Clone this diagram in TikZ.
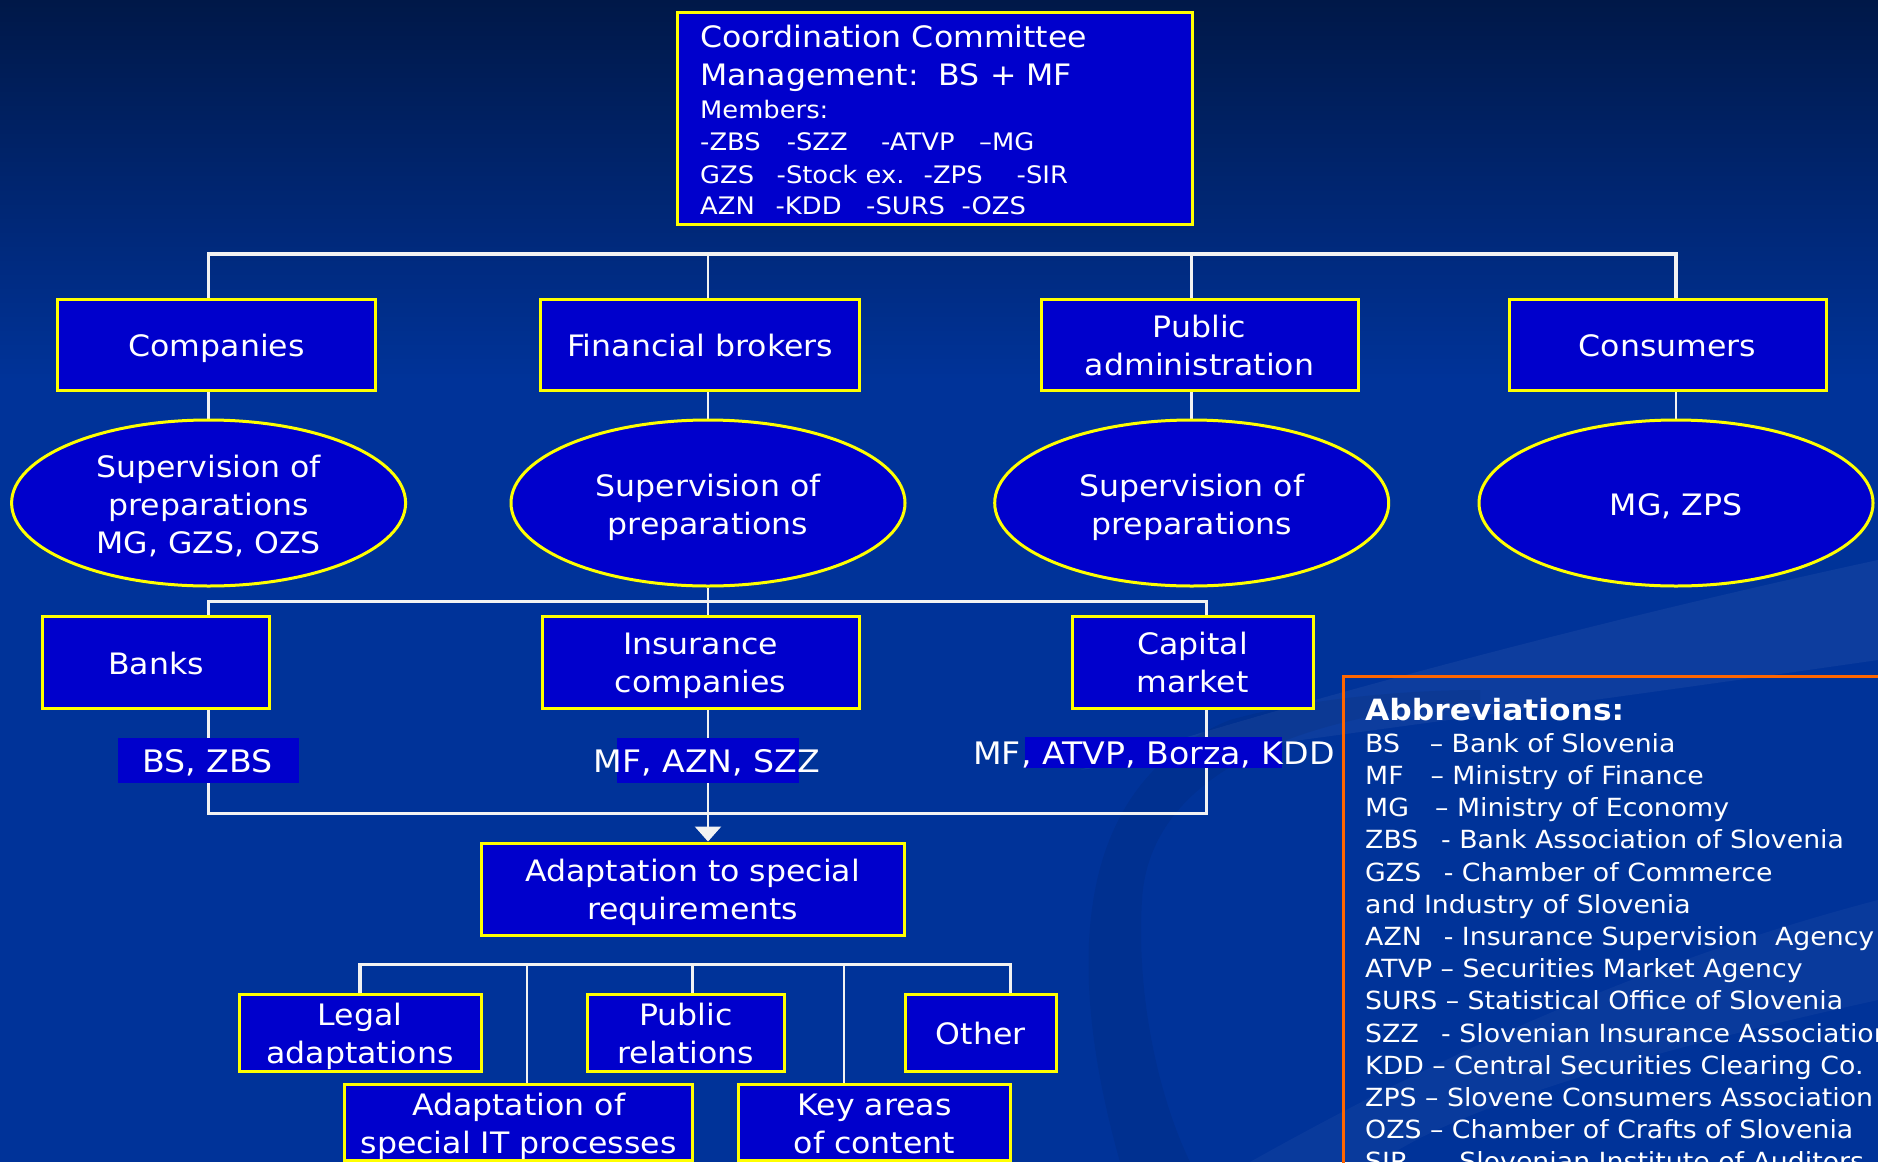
\documentclass[tikz,border=0pt]{standalone}
\usepackage{fontspec}
\setmainfont{DejaVu Sans}[FakeStretch=1.07]
\usetikzlibrary{shapes.geometric,arrows.meta}
\definecolor{bgblue}{HTML}{003399}
\definecolor{bgtop}{HTML}{001848}
\definecolor{boxblue}{HTML}{0000CC}
\definecolor{boxedge}{HTML}{FFFF00}
\definecolor{abbedge}{HTML}{FF6600}
\definecolor{linew}{HTML}{F2F2F2}
\newcommand\mainfnt{\fontsize{29.5}{38}\selectfont}
\newcommand\lblfnt{\fontsize{31}{38}\selectfont}
\newcommand\smallfnt{\fontsize{24.1}{32}\selectfont}
\newcommand\abbfnt{\fontsize{25}{32}\selectfont}
\newcommand\vstrut{\rule[-7pt]{0pt}{38pt}}
\newcommand\mlines[2]{\raisebox{#1}[\height][\depth]{\begin{tabular}{@{}c@{}}#2\end{tabular}}}
\pgfdeclarelayer{bglayer}
\pgfdeclarelayer{connlayer}
\pgfsetlayers{bglayer,connlayer,main}
\begin{document}
\begin{tikzpicture}[x=1pt,y=-1pt,
  orgbox/.style={draw=boxedge, line width=3pt, fill=boxblue, text=white,
    inner sep=0pt, font=\mainfnt,
    execute at begin node={\vstrut}, execute at end node={\vstrut}},
  mbox/.style={draw=boxedge, line width=3pt, fill=boxblue, text=white,
    inner sep=0pt, font=\mainfnt},
  orgell/.style={ellipse, draw=boxedge, line width=3pt, fill=boxblue, text=white,
    inner sep=0pt, font=\mainfnt, minimum width=394pt, minimum height=166pt},
  conn/.style={draw=linew, line width=2.6pt},
  busline/.style={draw=linew, line width=3.2pt},
  lblfill/.style={fill=boxblue, inner sep=0pt},
  lbltext/.style={text=white, inner sep=0pt, anchor=base, font=\lblfnt},
  cctext/.style={text=white, inner sep=0pt, anchor=base west},
  abbtext/.style={text=white, inner sep=0pt, anchor=base west, font=\abbfnt},
  arrowtip/.style={-{Triangle[width=26pt,length=15pt]}}
]
\useasboundingbox (0,0) rectangle (1878,1162);
\clip (0,0) rectangle (1878,1162);

% background
\begin{pgfonlayer}{bglayer}
\fill[bgblue] (0,0) rectangle (1878,1162);
\shade[top color=bgtop, bottom color=bgblue] (0,0) rectangle (1878,380);
\fill[white, opacity=0.05] (1080,770) .. controls (1300,700) and (1600,620) .. (1878,560)
  -- (1878,660) .. controls (1600,700) and (1300,740) .. (1080,770) -- cycle;
\fill[black, opacity=0.06] (1120,1162) .. controls (1060,950) and (1080,780) .. (1230,720)
  .. controls (1300,700) and (1400,690) .. (1480,690) -- (1480,702)
  .. controls (1330,712) and (1150,760) .. (1142,900)
  .. controls (1136,1000) and (1160,1100) .. (1190,1162) -- cycle;
\fill[white, opacity=0.035] (1250,1162) .. controls (1450,1050) and (1650,960) .. (1878,900)
  -- (1878,1000) .. controls (1650,1050) and (1450,1110) .. (1380,1162) -- cycle;
\end{pgfonlayer}

% top committee box
\node[mbox, minimum width=515pt, minimum height=212pt] (cc) at (934.5,118) {};
\node[cctext, font=\mainfnt] (cct1) at (700,47) {Coordination Committee};
\node[cctext, font=\mainfnt] (cct2) at (700,85) {Management:\ \ BS + MF};
\node[cctext, font=\smallfnt] (cct3) at (700,118) {Members:};
\node[cctext, font=\smallfnt] (cct4) at (700,150)
  {\makebox[86.6pt][l]{-ZBS}\makebox[94.4pt][l]{-SZZ}\makebox[98pt][l]{-ATVP}–MG};
\node[cctext, font=\smallfnt] (cct5) at (700,183)
  {\makebox[76.5pt][l]{GZS}\makebox[147pt][l]{-Stock ex.}\makebox[93pt][l]{-ZPS}-SIR};
\node[cctext, font=\smallfnt] (cct6) at (700,214)
  {\makebox[75.5pt][l]{AZN}\makebox[90.5pt][l]{-KDD}\makebox[95.4pt][l]{-SURS}-OZS};

% first row
\node[orgbox, minimum width=318.5pt, minimum height=91pt] (comp) at (216.7,344.5) {Companies};
\node[orgbox, minimum width=318.5pt, minimum height=91pt] (fin) at (700,344.5) {Financial brokers};
\node[mbox, minimum width=317pt, minimum height=91pt] (pub) at (1199.5,344.5) {\mlines{-4pt}{Public\\administration}};
\node[orgbox, minimum width=317pt, minimum height=91pt] (cons) at (1667.5,344.5) {Consumers};

% ellipses
\node[orgell] (e1) at (208.6,503) {\mlines{-4.4pt}{Supervision of\\preparations\\MG, GZS, OZS}};
\node[orgell] (e2) at (708,503) {\mlines{-5pt}{Supervision of\\preparations}};
\node[orgell] (e3) at (1191.7,503) {\mlines{-5pt}{Supervision of\\preparations}};
\node[orgell, execute at begin node={\vstrut}, execute at end node={\vstrut}] (e4) at (1676,503) {MG, ZPS};

% third row
\node[orgbox, minimum width=226.5pt, minimum height=92pt] (banks) at (156.2,662) {Banks};
\node[mbox, minimum width=317pt, minimum height=92pt] (ins) at (700.5,662) {\mlines{-4pt}{Insurance\\companies}};
\node[mbox, minimum width=241pt, minimum height=92pt] (cap) at (1192.5,662) {\mlines{-4pt}{Capital\\market}};

% labels
\node[lblfill, minimum width=181pt, minimum height=45pt] (lbzf) at (208.5,760.5) {};
\node[lblfill, minimum width=182pt, minimum height=45pt] (lazf) at (708,760.5) {};
\node[lblfill, minimum width=257pt, minimum height=31pt] (lkdf) at (1153.5,752.5) {};
\node[lbltext] (lbz) at (207.5,772.7) {BS, ZBS};
\node[lbltext] (laz) at (707,772.7) {MF, AZN, SZZ};
\node[lbltext] (lkd) at (1154,764) {MF, ATVP, Borza, KDD};

% adaptation
\node[mbox, minimum width=423.5pt, minimum height=92pt] (adapt) at (692.75,889) {\mlines{-4pt}{Adaptation to special\\requirements}};
\node[mbox, minimum width=242pt, minimum height=77pt] (legal) at (360,1032.5) {\mlines{-4pt}{Legal\\adaptations}};
\node[mbox, minimum width=196.5pt, minimum height=77pt] (prel) at (685.75,1032.5) {\mlines{-4pt}{Public\\relations}};
\node[orgbox, minimum width=151.5pt, minimum height=77pt] (other) at (980.75,1032.5) {Other};
\node[mbox, minimum width=348pt, minimum height=74.3pt] (itp) at (518.6,1122.9) {\mlines{-4pt}{Adaptation of\\special IT processes}};
\node[mbox, minimum width=272pt, minimum height=74.3pt] (key) at (874.5,1122.9) {\mlines{-4pt}{Key areas\\of content}};

% abbreviations
\draw[abbedge, line width=3pt] (1343,1200) -- (1343,676.5) -- (1900,676.5);
\node[cctext, font=\bfseries\fontsize{29.3}{32}\selectfont] (abh) at (1365,720) {Abbreviations:};
\foreach \t [count=\i] in {
  {\makebox[64.6pt][l]{BS}– Bank of Slovenia},
  {\makebox[65.3pt][l]{MF}– Ministry of Finance},
  {\makebox[69.9pt][l]{MG}– Ministry of Economy},
  {\makebox[76pt][l]{ZBS}- Bank Association of Slovenia},
  {\makebox[78.6pt][l]{GZS}- Chamber of Commerce},
  {and Industry of Slovenia},
  {\makebox[78.6pt][l]{AZN}- Insurance Supervision\ \ Agency},
  {ATVP – Securities Market Agency},
  {SURS – Statistical Office of Slovenia},
  {\makebox[76pt][l]{SZZ}- Slovenian Insurance Association},
  {KDD – Central Securities Clearing Co.},
  {ZPS – Slovene Consumers Association},
  {OZS – Chamber of Crafts of Slovenia},
  {\makebox[76pt][l]{SIR}- Slovenian Institute of Auditors}}
  \node[abbtext] (ab\i) at (1365,{720+32.2*\i}) {\t};

% connectors
\coordinate (bus1) at (0,254);
\coordinate (bus2) at (0,601.5);
\coordinate (bus3) at (0,813.5);
\coordinate (bus4) at (0,964.5);
\coordinate (capx) at (1206.7,0);
\coordinate (xi) at (527,0);
\coordinate (xp) at (692.5,0);
\coordinate (xk) at (844,0);
\coordinate (xo) at (1010.6,0);
\begin{pgfonlayer}{connlayer}
\draw[busline] (e1.north |- comp.north) -- (e1.north |- bus1) -- (e4.north |- bus1) -- (e4.north |- cons.north);
\draw[conn] (e2.north |- bus1) -- (e2.north |- fin.north);
\draw[conn] (e3.north |- bus1) -- (e3.north |- pub.north);
\draw[conn] (e1.north |- comp.south) -- (e1.north);
\draw[conn] (e2.north |- fin.south) -- (e2.north);
\draw[conn] (e3.north |- pub.south) -- (e3.north);
\draw[conn] (e4.north |- cons.south) -- (e4.north);
\draw[busline] (e1.south |- banks.north) -- (e1.south |- bus2) -- (capx |- bus2) -- (capx |- cap.north);
\draw[conn] (e2.south) -- (e2.south |- ins.north);
\draw[busline] (e1.south |- banks.south) -- (e1.south |- bus3) -- (capx |- bus3) -- (capx |- cap.south);
\draw[conn, draw=linew, fill=white, arrowtip] (e2.south |- ins.south) -- (e2.south |- adapt.north);
\draw[busline] (legal.north) -- (legal.north |- bus4) -- (xo |- bus4) -- (xo |- other.north);
\draw[conn] (xi |- bus4) -- (xi |- itp.north);
\draw[conn] (xp |- bus4) -- (xp |- prel.north);
\draw[conn] (xk |- bus4) -- (xk |- key.north);
\end{pgfonlayer}
\end{tikzpicture}
\end{document}
